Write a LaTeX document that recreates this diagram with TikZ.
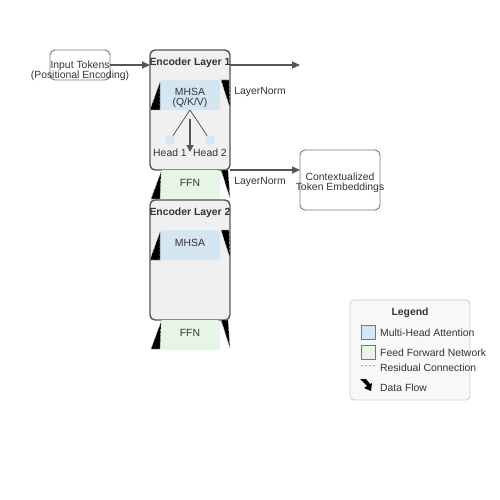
\documentclass[tikz,border=0pt]{standalone}
\usepackage{fontspec}
\setmainfont{Liberation Sans}
\usetikzlibrary{arrows.meta}
\definecolor{txt}{HTML}{333333}
\definecolor{edge}{HTML}{555555}
\definecolor{mhsa}{HTML}{D5E6F3}
\definecolor{ffn}{HTML}{E6F5E6}
\definecolor{layerbg}{HTML}{F0F0F0}
\definecolor{legbg}{HTML}{F8F8F8}
\tikzset{
  lbl/.style={text=txt, font=\fontsize{10.4}{10}\selectfont, inner sep=0pt, align=center, yshift=-1.5pt},
  boldlbl/.style={lbl, font=\fontsize{10.4}{10}\selectfont\bfseries},
  iobox/.style={draw=edge!80, line width=0.9pt, rounded corners=5pt, fill=white},
  layerbox/.style={draw=edge, line width=1.4pt, rounded corners=5pt, fill=layerbg},
  mhsabox/.style={fill=mhsa, rounded corners=3pt},
  ffnbox/.style={fill=ffn, rounded corners=3pt},
  flow/.style={draw=edge, line width=1.4pt, -{Triangle[length=8pt,width=7pt]}},
  resid/.style={fill=black, draw=gray!70, dashed, dash pattern=on 2pt off 2pt, line width=0.6pt},
  headdot/.style={circle, fill=mhsa, minimum size=10pt, inner sep=0pt},
}
\begin{document}
\begin{tikzpicture}[x=1pt,y=-1pt]
\useasboundingbox (0,0) rectangle (500,500);
% input
\draw[iobox] (50,50) rectangle (110,80);
\node[lbl] (in) at (80,69) {Input Tokens\\(Positional Encoding)};
\coordinate (inR) at (110,65);
% encoder layer 1
\draw[layerbox] (150,50) rectangle (230,170);
\coordinate (l1L) at (150,65);
\coordinate (l1R) at (230,65);
\coordinate (out1) at (300,65);
\node[boldlbl] (t1) at (190,61) {Encoder Layer 1};
\fill[mhsabox] (160,80) rectangle (220,110);
\node[lbl] (m1) at (190,96) {MHSA\\(Q/K/V)};
\draw[resid] (160,82) -- (150,110) -- (160,110) -- cycle;
\draw[resid] (221,80) -- (229,80) -- (230,108) -- cycle;
\node[lbl] (ln1) at (260,91) {LayerNorm};
\node[headdot] (h1) at (170,140) {};
\node[headdot] (h2) at (210,140) {};
\coordinate (msplit) at (190,110);
\draw[edge, line width=0.8pt] (msplit) -- (h1);
\draw[edge, line width=0.8pt] (msplit) -- (h2);
\coordinate (aTop) at (190,119);
\coordinate (aBot) at (190,152);
\draw[edge, line width=1.4pt, -{Triangle[length=7pt,width=7pt]}] (aTop) -- (aBot);
\node[lbl] (hl1) at (170,151) {Head 1};
\node[lbl] (hl2) at (210,151) {Head 2};
% FFN 1
\fill[ffnbox] (160,170) rectangle (220,200);
\node[lbl] (f1) at (190,181) {FFN};
\draw[resid] (161,172) -- (151,199) -- (160,199) -- cycle;
\draw[resid] (221,170) -- (228,170) -- (230,198) -- cycle;
\node[lbl] (ln2) at (260,181) {LayerNorm};
\coordinate (l1B) at (230,170);
% output
\draw[iobox] (300,150) rectangle (380,210);
\node[lbl] (out) at (340,181) {Contextualized\\Token Embeddings};
\coordinate (outL) at (300,170);
% encoder layer 2
\draw[layerbox] (150,200) rectangle (230,320);
\node[boldlbl] (t2) at (190,211) {Encoder Layer 2};
\fill[mhsabox] (160,230) rectangle (220,260);
\node[lbl] (m2) at (190,241) {MHSA};
\draw[resid] (160,232) -- (150,260) -- (160,260) -- cycle;
\draw[resid] (221,230) -- (229,230) -- (230,258) -- cycle;
% FFN 2
\fill[ffnbox] (160,320) rectangle (220,350);
\node[lbl] (f2) at (190,331) {FFN};
\draw[resid] (161,322) -- (151,349) -- (160,349) -- cycle;
\draw[resid] (221,320) -- (228,320) -- (230,348) -- cycle;
% arrows
\draw[flow] (inR) -- (l1L);
\draw[flow] (l1R) -- (out1);
\draw[flow] (l1B) -- (outL);
% legend
\draw[draw=gray!40, fill=legbg, line width=0.8pt, rounded corners=4pt] (350,300) rectangle (470,400);
\node[boldlbl] (lt) at (410,311) {Legend};
\draw[draw=edge!80, fill=mhsa, line width=0.9pt] (361,325) rectangle (375,339);
\node[lbl, anchor=west] (lm) at (380,331) {Multi-Head Attention};
\draw[draw=edge!80, fill=ffn, line width=0.9pt] (361,345) rectangle (375,359);
\node[lbl, anchor=west] (lf) at (380,351) {Feed Forward Network};
\draw[gray!70, dashed, dash pattern=on 2pt off 2pt, line width=0.8pt] (361,365) -- (375,365);
\node[lbl, anchor=west] (lr) at (380,366) {Residual Connection};
\fill[black] (360,379) -- (366,379) -- (370,384) -- (372,383) -- (371,391) -- (364,388) -- (367,386) -- cycle;
\node[lbl, anchor=west] (ld) at (380,386) {Data Flow};
\end{tikzpicture}
\end{document}
